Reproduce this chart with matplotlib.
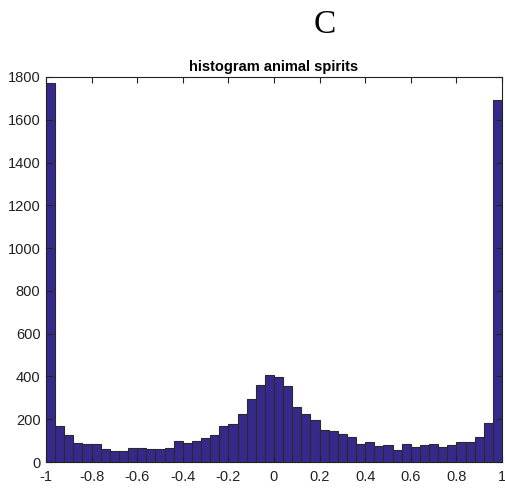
import numpy as np
import matplotlib
matplotlib.use("Agg")
import matplotlib.pyplot as plt

# histogram counts, 50 bins from -1 to 1
bin_edges = np.linspace(-1, 1, 51)
counts = [1773, 168, 125, 90, 83, 83, 62, 50, 50, 67,
          67, 62, 59, 64, 100, 89, 98, 112, 125, 168,
          179, 226, 294, 360, 408, 397, 354, 259, 223, 198,
          150, 145, 132, 115, 83, 93, 75, 79, 58, 84,
          72, 79, 83, 70, 79, 92, 92, 117, 184, 1692]
xticks = [-1, -0.8, -0.6, -0.4, -0.2, 0, 0.2, 0.4, 0.6, 0.8, 1]
xticklabels = ["-1", "-0.8", "-0.6", "-0.4", "-0.2", "0", "0.2", "0.4", "0.6", "0.8", "1"]
yticks = list(range(0, 1801, 200))

plt.rcParams['font.family'] = ['Liberation Sans', 'DejaVu Sans']

fig = plt.figure(figsize=(5.06, 4.92), dpi=100)
ax = fig.add_axes([46 / 506, 30 / 492, 456 / 506, 385 / 492])

ax.bar(bin_edges[:-1], counts, width=np.diff(bin_edges), align='edge',
       color='#352a8c', edgecolor='#2a2a2a', linewidth=0.8)

ax.set_xlim(-1, 1)
ax.set_ylim(0, 1800)
ax.set_xticks(xticks)
ax.set_xticklabels(xticklabels)
ax.set_yticks(yticks)
ax.tick_params(direction='in', top=True, right=True, labelsize=10.5,
               length=4, width=0.8, colors='#222222')
ax.tick_params(axis='x', pad=6)
ax.tick_params(axis='y', pad=4)
for s in ax.spines.values():
    s.set_linewidth(0.8)
    s.set_color('#222222')

ax.set_title("histogram animal spirits", fontsize=10.5, fontweight='bold', pad=4)
fig.text(325 / 506, 0.95, "C", fontsize=24, family='Liberation Serif',
         ha='center', va='center')

fig.savefig("out.png", dpi=100)
